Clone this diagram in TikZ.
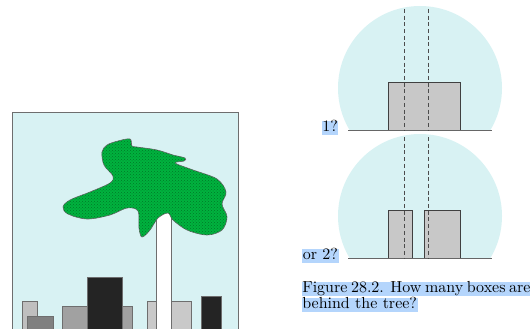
\documentclass[tikz,border=0pt]{standalone}
\usepackage{fontspec}
\usetikzlibrary{patterns}
% text face: the 10pt design of Latin Modern, set large
\newfontfamily\capfont{lmroman10-regular.otf}
\definecolor{sky}{RGB}{216,242,243}
\definecolor{leaf}{RGB}{0,178,62}
\definecolor{leafdot}{RGB}{0,120,40}
\definecolor{hl}{RGB}{180,213,252}
\definecolor{boxgray}{RGB}{200,200,200}
\definecolor{edgegray}{RGB}{110,110,110}
\tikzset{
  bldg/.style={draw=edgegray, line width=0.8pt},
  boxshape/.style={draw=black!75, fill=boxgray, line width=0.8pt},
  sightline/.style={draw=black!70, dashed, dash pattern=on 4pt off 2.7pt, line width=0.8pt},
  ground/.style={draw=black!60, line width=1pt},
  hltext/.style={fill=hl, inner xsep=0.6pt, inner ysep=0pt, text height=10.5pt, text depth=3.6pt,
    anchor=base west, font=\capfont\fontsize{16}{16}\selectfont},
}
\begin{document}
\begin{tikzpicture}[x=1pt, y=-1pt]
\useasboundingbox (0,0) rectangle (530,329);
\begin{scope}
\clip (0,0) rectangle (530,329);

% ---- street scene ----
\filldraw[fill=sky, draw=edgegray, line width=0.8pt] (12,112) rectangle (238.5,340);
% buildings, back to front
\filldraw[bldg, fill=black!25] (22,301) rectangle (37,340);
\filldraw[bldg, fill=black!50] (27,316) rectangle (53,340);
\filldraw[bldg, fill=black!37] (62,306) rectangle (132,340);
\filldraw[bldg, fill=black!86] (87,277) rectangle (122,340);
\filldraw[bldg, fill=black!21] (147,301) rectangle (191,340);
\filldraw[bldg, fill=black!86] (201,296) rectangle (221,340);
% tree trunk
\filldraw[bldg, fill=white] (156,205) rectangle (171,340);
% foliage
\def\crown{plot[smooth cycle, tension=0.55] coordinates {
  (102,152) (107,145) (118,141) (130,139) (132,146) (137,147) (157,150)
  (173,155) (185,158) (184,161) (175,163) (193,170) (217,179) (226,192)
  (222,204) (227,217) (222,230) (207,235) (187,230) (173,220) (168,213)
  (158,218) (150,230) (142,237) (139,228) (138,211) (127,208) (110,215)
  (87,219) (68,214) (63,207) (70,200) (90,192) (110,183) (113,176) (104,165)}}
\path[draw=black!60, line width=0.6pt, fill=leaf] \crown;
\path[pattern=crosshatch dots, pattern color=leafdot] \crown;

% ---- upper view: one box ----
\begin{scope}
  \clip (330,0) rectangle (510,130);
  \fill[sky] (420,88) circle[radius=82pt];
\end{scope}
\filldraw[boxshape] (388,82) rectangle (460,130);
\draw[ground] (348,130) -- (492,130);
\draw[sightline] (404,9) -- (404,130);
\draw[sightline] (428,9) -- (428,130);

% ---- lower view: two boxes ----
\begin{scope}
  \clip (330,128) rectangle (510,258);
  \fill[sky] (420,216) circle[radius=82pt];
\end{scope}
\filldraw[boxshape] (388,210) rectangle (412,258);
\filldraw[boxshape] (424,210) rectangle (460,258);
\draw[ground] (348,258) -- (492,258);
\draw[sightline] (404,137) -- (404,258);
\draw[sightline] (428,137) -- (428,258);

% ---- labels ----
\node[hltext] (one) at (321.5,131.5) {1?};
\node[hltext] (two) at (302,259.5) {or 2?};
\node[hltext] (cap1) at (301.5,292.5) {\makebox[228pt][s]{Figure 28.2.  How many boxes are}};
\node[hltext] (cap2) at (301.5,308.5) {behind the tree?};
\end{scope}
\end{tikzpicture}
\end{document}
